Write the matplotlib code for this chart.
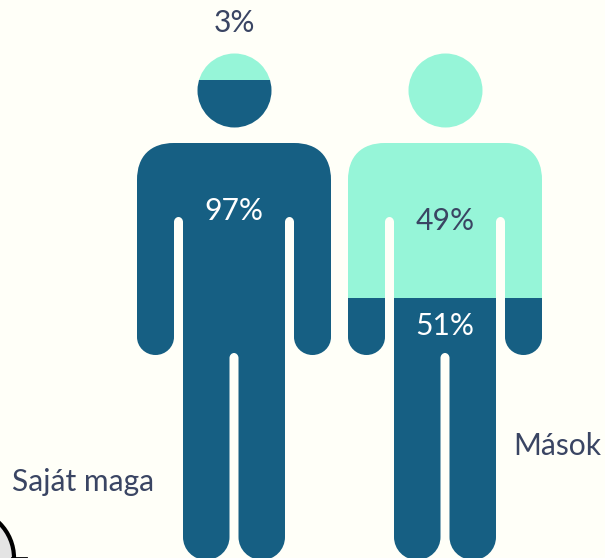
import matplotlib
matplotlib.use("Agg")
import matplotlib.pyplot as plt
from matplotlib.patches import Circle, PathPatch, Rectangle
from matplotlib.path import Path

plt.rcParams['font.family'] = ['Lato', 'DejaVu Sans']

# values as labelled in the picture
names = ["Saját maga", "Mások"]
top_share = [3, 49]
bottom_share = [97, 51]
# where the fill changes colour (y in pixels from the top)
split_y = [80, 298]

centers = [234, 445]
DARK = "#165f83"
LIGHT = "#96f5d8"
BG = "#fffff8"
INK = "#3a4563"
FS = 21.6


def corner(verts, codes, p0, p1, p2, k):
    # rounded corner from current point p0 to p2 around control corner p1
    c1 = (p0[0] + (p1[0] - p0[0]) * k, p0[1] + (p1[1] - p0[1]) * k)
    c2 = (p2[0] + (p1[0] - p2[0]) * k, p2[1] + (p1[1] - p2[1]) * k)
    verts += [c1, c2, p2]
    codes += [Path.CURVE4] * 3


def body_path(cx):
    pts = []
    cds = []

    def move(x, y):
        pts.append((cx + x, y))
        cds.append(Path.MOVETO)

    def line(x, y):
        pts.append((cx + x, y))
        cds.append(Path.LINETO)

    def arc(x0, y0, x1, y1, x2, y2, k=0.5523):
        corner(pts, cds, (cx + x0, y0), (cx + x1, y1), (cx + x2, y2), k)

    move(-60, 143)
    line(60, 143)
    arc(60, 143, 97, 143, 97, 180, 0.64)
    line(97, 337)
    arc(97, 337, 97, 355, 78.5, 355)
    arc(78.5, 355, 60, 355, 60, 337)
    line(60, 222)
    arc(60, 222, 60, 217, 55.5, 217)
    arc(55.5, 217, 51, 217, 51, 222)
    line(51, 537)
    arc(51, 537, 51, 560, 28, 560)
    arc(28, 560, 4.5, 560, 4.5, 537)
    line(4.5, 358)
    arc(4.5, 358, 4.5, 353, 0, 353)
    arc(0, 353, -4.5, 353, -4.5, 358)
    line(-4.5, 537)
    arc(-4.5, 537, -4.5, 560, -28, 560)
    arc(-28, 560, -51, 560, -51, 537)
    line(-51, 222)
    arc(-51, 222, -51, 217, -55.5, 217)
    arc(-55.5, 217, -60, 217, -60, 222)
    line(-60, 337)
    arc(-60, 337, -60, 355, -78.5, 355)
    arc(-78.5, 355, -97, 355, -97, 337)
    line(-97, 180)
    arc(-97, 180, -97, 143, -60, 143, 0.64)
    pts.append((cx - 60, 143))
    cds.append(Path.CLOSEPOLY)
    return Path(pts, cds)


fig = plt.figure(figsize=(6.05, 5.58), dpi=100, facecolor=BG)
ax = fig.add_axes([0, 0, 1, 1])
ax.set_xlim(0, 605)
ax.set_ylim(558, 0)
ax.axis("off")

for cx, sy in zip(centers, split_y):
    for outline in [Circle((cx + 0.5, 90.5), 37), PathPatch(body_path(cx))]:
        outline.set_facecolor("none")
        outline.set_edgecolor("none")
        ax.add_patch(outline)
        top = Rectangle((cx - 110, 0), 220, sy, fc=LIGHT, ec="none")
        bottom = Rectangle((cx - 110, sy), 220, 600 - sy, fc=DARK, ec="none")
        ax.add_patch(top)
        ax.add_patch(bottom)
        top.set_clip_path(outline)
        bottom.set_clip_path(outline)

ax.text(centers[0], 23, "{}%".format(top_share[0]), color=INK, fontsize=FS,
        ha="center", va="center")
ax.text(centers[0], 211, "{}%".format(bottom_share[0]), color="white", fontsize=FS,
        ha="center", va="center")
ax.text(centers[1], 221, "{}%".format(top_share[1]), color=INK, fontsize=FS,
        ha="center", va="center")
ax.text(centers[1], 326, "{}%".format(bottom_share[1]), color="white", fontsize=FS,
        ha="center", va="center")
ax.text(12, 482, names[0], color=INK, fontsize=FS, ha="left", va="center")
ax.text(513, 446, names[1], color=INK, fontsize=FS, ha="left", va="center")

# cut off figure at the lower left corner
ax.add_patch(Circle((-35, 558), 49, fc="#e4e4e4", ec="black", lw=3))
ax.plot([12, 26], [557.5, 557.5], color="black", lw=2)

fig.savefig("out.png", dpi=100, facecolor=BG)
